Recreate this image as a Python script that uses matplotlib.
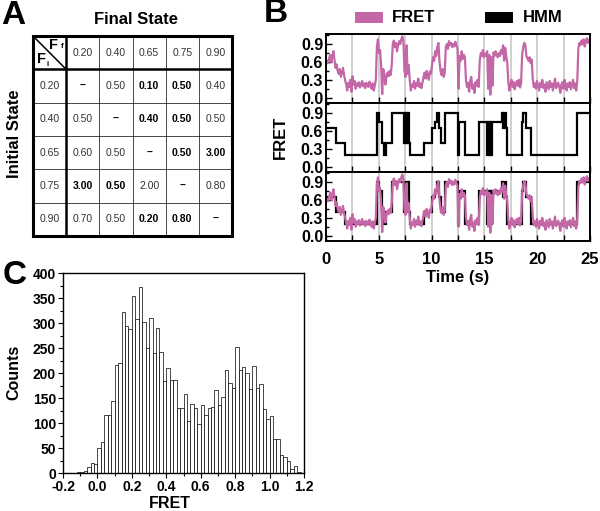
import numpy as np
import matplotlib
matplotlib.use("Agg")
import matplotlib.pyplot as plt
from matplotlib.patches import Rectangle
from matplotlib.ticker import MultipleLocator

plt.rcParams['font.family'] = ['Liberation Sans', 'DejaVu Sans']
plt.rcParams['font.weight'] = 'bold'

# ---------------- data ----------------
states = ["0.20", "0.40", "0.65", "0.75", "0.90"]
rate_table = [
    ["–", "0.50", "0.10", "0.50", "0.40"],
    ["0.50", "–", "0.40", "0.50", "0.50"],
    ["0.60", "0.50", "–", "0.50", "3.00"],
    ["3.00", "0.50", "2.00", "–", "0.80"],
    ["0.70", "0.50", "0.20", "0.80", "–"],
]
bold_cells = [
    [True, False, True, True, False],
    [False, True, True, True, False],
    [False, False, True, True, True],
    [True, True, False, True, False],
    [False, False, True, True, True],
]

fret_trace = [
    0.55, 0.62, 0.58, 0.66, 0.72, 0.60, 0.70, 0.78, 0.64, 0.50,
    0.56, 0.45, 0.40, 0.48, 0.35, 0.42, 0.50, 0.38, 0.30, 0.22,
    0.12, 0.25, 0.18, 0.30, 0.10, 0.36, 0.22, 0.28, 0.15, 0.24,
    0.20, 0.26, 0.17, 0.22, 0.28, 0.19, 0.24, 0.16, 0.25, 0.21,
    0.18, 0.27, 0.22, 0.15, 0.24, 0.12, 0.20, 0.30, 0.85, 0.98,
    0.75, 0.80, 0.55, 0.06, 0.48, 0.40, 0.22, 0.35, 0.42, 0.36,
    0.45, 0.38, 0.55, 0.90, 0.96, 0.85, 0.92, 0.78, 0.88, 0.95,
    0.90, 0.98, 1.03, 0.95, 0.45, 0.35, 0.88, 0.40, 0.55, 0.30,
    0.12, 0.22, 0.18, 0.28, 0.15, 0.25, 0.20, 0.32, 0.18, 0.24,
    0.16, 0.26, 0.35, 0.42, 0.32, 0.45, 0.38, 0.30, 0.44, 0.40,
    0.55, 0.68, 0.62, 0.78, 0.70, 0.85, 0.92, 0.62, 0.45, 0.38,
    0.48, 0.35, 0.42, 0.85, 0.90, 0.82, 0.95, 0.88, 0.92, 0.85,
    0.90, 0.86, 0.94, 0.88, 0.84, 0.15, 0.70, 0.62, 0.78, 0.65,
    0.72, 0.68, 0.30, 0.18, 0.25, 0.10, 0.28, 0.35, 0.15, 0.22,
    0.08, 0.26, 0.20, 0.30, 0.18, 0.62, 0.75, 0.70, 0.80, 0.68,
    0.74, 0.70, 0.78, 0.15, 0.72, 0.05, 0.68, 0.20, 0.76, 0.70,
    0.78, 0.72, 0.68, 0.75, 0.70, 0.80, 0.74, 0.88, 0.62, 0.84,
    0.70, 0.58, 0.25, 0.12, 0.22, 0.30, 0.18, 0.26, 0.14, 0.22,
    0.28, 0.20, 0.30, 0.17, 0.24, 0.72, 0.85, 0.92, 0.88, 0.70,
    0.66, 0.62, 0.68, 0.58, 0.64, 0.32, 0.18, 0.24, 0.15, 0.28,
    0.20, 0.12, 0.25, 0.18, 0.30, 0.16, 0.22, 0.10, 0.26, 0.20,
    0.14, 0.28, 0.18, 0.24, 0.12, 0.22, 0.32, 0.16, 0.20, 0.25,
    0.18, 0.08, 0.22, 0.26, 0.15, 0.30, 0.20, 0.12, 0.24, 0.18,
    0.26, 0.14, 0.22, 0.30, 0.16, 0.24, 0.12, 0.28, 0.82, 0.92,
    0.88, 0.96, 0.90, 0.98, 0.86, 0.94, 1.00, 0.92, 0.97, 0.95,
]
trace_time = np.linspace(0, 25, len(fret_trace))

hmm_edges = [0, 0.9, 1.8, 4.8, 5.05, 5.3, 5.5, 5.65, 6.25, 7.35, 7.55, 7.65, 7.75,
             7.85, 8.0, 9.25, 10.0, 10.3, 10.55, 10.7, 10.85, 11.3, 12.5, 12.55,
             13.2, 14.5, 15.25, 15.35, 15.45, 15.55, 15.65, 15.75, 16.7, 16.8,
             16.9, 17.0, 17.15, 18.55, 18.7, 18.95, 19.45, 23.75, 25]
hmm_levels = [0.65, 0.4, 0.2, 0.9, 0.75, 0.4, 0.2, 0.4, 0.9, 0.4, 0.9, 0.4, 0.9,
              0.4, 0.2, 0.4, 0.65, 0.75, 0.9, 0.65, 0.4, 0.9, 0.2, 0.75, 0.2,
              0.75, 0.2, 0.75, 0.2, 0.75, 0.2, 0.75, 0.9, 0.65, 0.9, 0.65, 0.2,
              0.75, 0.9, 0.65, 0.2, 0.9]

hist_centers = np.round(np.arange(-0.15, 1.2, 0.02), 2)
hist_counts = [1, 1, 2, 3, 4, 12, 21, 19,
               51, 63, 117, 116, 144, 216, 220, 322, 295, 288,
               355, 309, 373, 302, 251, 310, 240, 290, 242, 184,
               211, 187, 186, 131, 131, 159, 104, 138, 131, 99,
               136, 116, 131, 133, 167, 137, 152, 206, 181, 171,
               252, 206, 212, 200, 168, 214, 171, 179, 128, 108,
               114, 69, 69, 37, 32, 24, 9, 14, 3, 1]

PINK = '#c467a6'
W, H = 600, 511

def fx(px):
    return px / W

def fy(py):
    return 1 - py / H

fig = plt.figure(figsize=(6.0, 5.11), dpi=100)

# ---------------- Panel A: table ----------------
tab = fig.add_axes([fx(33), fy(236), (232 - 33) / W, (236 - 36) / H])
tab.set_xlim(0, 6)
tab.set_ylim(6, 0)
tab.axis('off')
for k in range(2, 6):
    tab.plot([k, k], [0, 6], color='k', lw=0.5, clip_on=False)
    tab.plot([0, 6], [k, k], color='k', lw=0.5, clip_on=False)
tab.plot([1, 1], [0, 6], color='k', lw=1.8, clip_on=False)
tab.plot([0, 6], [1, 1], color='k', lw=1.8, clip_on=False)
tab.add_patch(Rectangle((0, 0), 6, 6, fill=False, ec='k', lw=2.2, clip_on=False))
tab.plot([0, 1], [0, 1], color='k', lw=1.1)
tab.text(0.63, 0.27, 'F', fontsize=10.5, fontweight='bold', ha='center', va='center')
tab.text(0.88, 0.33, 'f', fontsize=5.5, fontweight='bold', ha='center', va='center')
tab.text(0.26, 0.70, 'F', fontsize=10.5, fontweight='bold', ha='center', va='center')
tab.text(0.43, 0.86, 'i', fontsize=5.5, fontweight='bold', ha='center', va='center')
for j, s in enumerate(states):
    tab.text(j + 1.5, 0.5, s, fontsize=7.5, fontweight='normal', color='#333333',
             ha='center', va='center')
    tab.text(0.5, j + 1.5, s, fontsize=7.5, fontweight='normal', color='#333333',
             ha='center', va='center')
for i in range(5):
    for j in range(5):
        b = bold_cells[i][j]
        tab.text(j + 1.5, i + 1.5, rate_table[i][j], fontsize=7.5,
                 fontweight='bold' if b else 'normal',
                 color='black' if b else '#333333', ha='center', va='center')

fig.text(fx(136), fy(20), 'Final State', fontsize=12, fontweight='bold',
         ha='center', va='center')
fig.text(fx(15), fy(134), 'Initial State', fontsize=12, fontweight='bold',
         ha='center', va='center', rotation=90)

# ---------------- Panel B: traces ----------------
tops = [34, 103, 172]
axes_b = []
for k, top in enumerate(tops):
    ax = fig.add_axes([fx(326), fy(top + 69), 264 / W, 69 / H])
    axes_b.append(ax)
    for g in np.arange(2.5, 25, 2.5):
        ax.axvline(g, color='#c8c8c8', lw=1.2, zorder=0)
    ax.set_xlim(0, 25)
    ax.set_ylim(-0.09, 1.07)
    ax.yaxis.set_major_locator(MultipleLocator(0.3))
    ax.yaxis.set_minor_locator(MultipleLocator(0.15))
    ax.xaxis.set_major_locator(MultipleLocator(5))
    ax.xaxis.set_minor_locator(MultipleLocator(2.5))
    ax.tick_params(axis='both', which='both', direction='in', top=False, right=False,
                   labelsize=11.5, width=1.0)
    ax.tick_params(axis='both', which='major', length=4)
    ax.tick_params(axis='both', which='minor', length=4)
    ax.tick_params(axis='y', which='minor', length=2.5)
    ax.set_yticks([0.0, 0.3, 0.6, 0.9])
    ax.set_yticklabels(['0.0', '0.3', '0.6', '0.9'], fontweight='bold')
    ax.tick_params(axis='y', pad=2)
    for sp in ax.spines.values():
        sp.set_linewidth(1.4)
    if k < 2:
        ax.tick_params(axis='x', labelbottom=False)

axes_b[0].plot(trace_time, fret_trace, color=PINK, lw=1.6)
axes_b[1].stairs(hmm_levels, hmm_edges, baseline=None, color='k', lw=1.6)
axes_b[2].plot(trace_time, fret_trace, color=PINK, lw=1.6)
axes_b[2].stairs(hmm_levels, hmm_edges, baseline=None, color='k', lw=1.6)
axes_b[2].set_xticks([0, 5, 10, 15, 20, 25])
axes_b[2].set_xticklabels(['0', '5', '10', '15', '20', '25'], fontweight='bold')
axes_b[2].tick_params(axis='x', labelsize=12, pad=8)

fig.text(fx(280), fy(137), 'FRET', fontsize=12, fontweight='bold',
         ha='center', va='center', rotation=90)
fig.text(fx(458), fy(277), 'Time (s)', fontsize=12, fontweight='bold',
         ha='center', va='center')

# legend
fig.add_artist(Rectangle((fx(355), fy(23)), 28 / W, 11 / H, transform=fig.transFigure,
                         fc=PINK, ec='none'))
fig.add_artist(Rectangle((fx(485), fy(23)), 28 / W, 11 / H, transform=fig.transFigure,
                         fc='black', ec='none'))
fig.text(fx(392), fy(17.5), 'FRET', fontsize=12, fontweight='bold', va='center', ha='left')
fig.text(fx(523), fy(17.5), 'HMM', fontsize=12, fontweight='bold', va='center', ha='left')

# ---------------- Panel C: histogram ----------------
axh = fig.add_axes([fx(63), fy(473), 241 / W, 200 / H])
axh.bar(hist_centers, hist_counts, width=0.02, facecolor='white', edgecolor='black',
        linewidth=0.5)
axh.set_xlim(-0.2, 1.2)
axh.set_ylim(0, 400)
axh.xaxis.set_major_locator(MultipleLocator(0.2))
axh.xaxis.set_minor_locator(MultipleLocator(0.1))
axh.yaxis.set_major_locator(MultipleLocator(50))
axh.yaxis.set_minor_locator(MultipleLocator(25))
axh.set_xticks(np.round(np.arange(-0.2, 1.21, 0.2), 1))
axh.set_xticklabels(['-0.2', '0.0', '0.2', '0.4', '0.6', '0.8', '1.0', '1.2'],
                    fontweight='bold')
axh.set_yticks(np.arange(0, 401, 50))
axh.set_yticklabels([str(v) for v in range(0, 401, 50)], fontweight='bold')
axh.tick_params(axis='both', which='both', direction='out', labelsize=10, width=0.8)
axh.tick_params(axis='both', which='major', length=3.5, pad=1.5)
axh.tick_params(axis='both', which='minor', length=2)
for sp in axh.spines.values():
    sp.set_linewidth(1.0)
fig.text(fx(14), fy(372), 'Counts', fontsize=11.5, fontweight='bold',
         ha='center', va='center', rotation=90)
fig.text(fx(170), fy(503), 'FRET', fontsize=11.5, fontweight='bold',
         ha='center', va='center')

# panel letters
fig.text(fx(13), fy(15), 'A', fontsize=24, fontweight='bold', ha='center', va='center')
fig.text(fx(276), fy(14), 'B', fontsize=24, fontweight='bold', ha='center', va='center')
fig.text(fx(15), fy(276), 'C', fontsize=24, fontweight='bold', ha='center', va='center')

fig.savefig('out.png', dpi=100)
